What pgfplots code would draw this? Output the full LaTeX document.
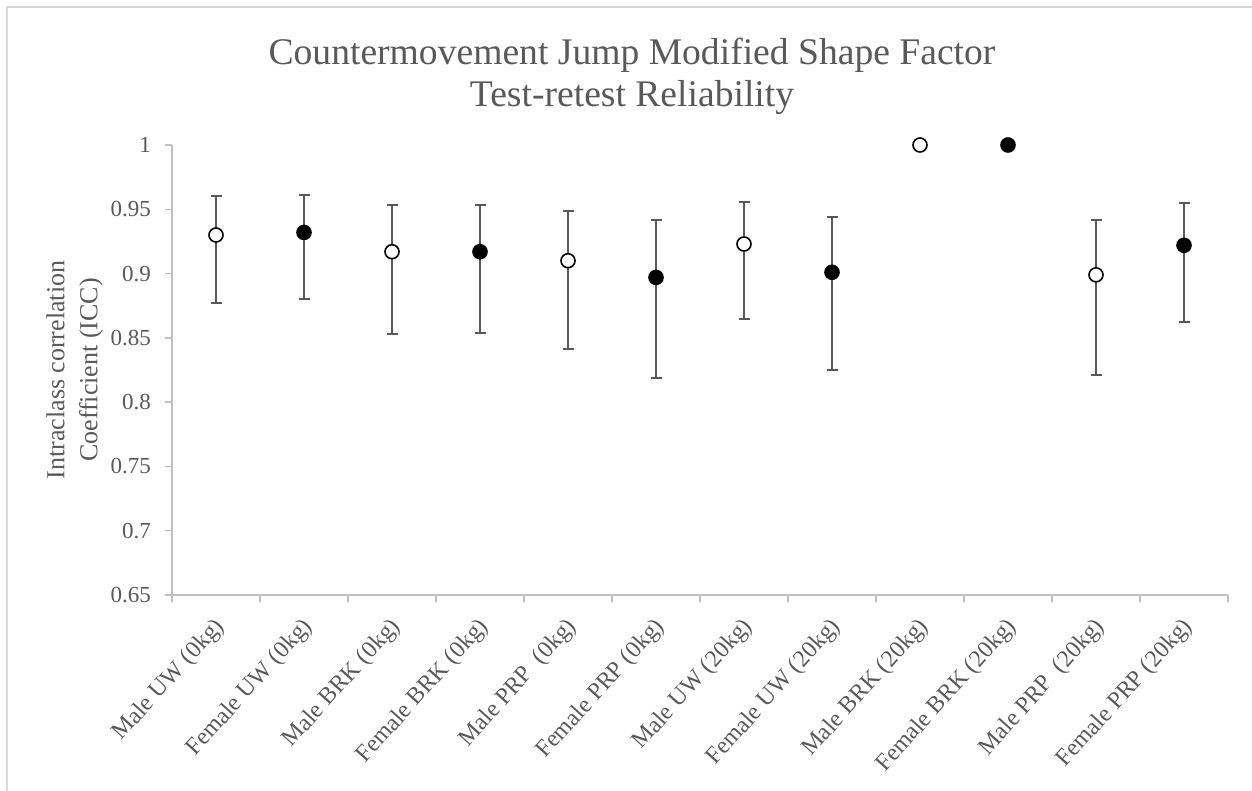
\documentclass[border=0pt]{standalone}
\usepackage{pgfplots}
\usepackage{pgfplotstable}
\pgfplotsset{compat=1.18}
\usepackage{fontspec}
\setmainfont{Liberation Serif}
\definecolor{txt}{HTML}{595959}
\definecolor{axl}{HTML}{BFBFBF}
\definecolor{frm}{HTML}{D9D9D9}
\definecolor{bar}{HTML}{595959}

\pgfplotstableread{
x y lo hi
0 0.930 0.877 0.960
2 0.917 0.853 0.953
4 0.910 0.841 0.949
6 0.923 0.865 0.956
8 1.000 1.000 1.000
10 0.899 0.821 0.942
}\male
\pgfplotstableread{
x y lo hi
1 0.932 0.880 0.961
3 0.917 0.854 0.953
5 0.897 0.819 0.942
7 0.901 0.825 0.944
9 1.000 1.000 1.000
11 0.922 0.862 0.955
}\female

\begin{document}
\begin{tikzpicture}
\useasboundingbox (0,0) rectangle (626bp,395.5bp);
\draw[frm, line width=0.75bp] (3.5bp,-5bp) -- (3.5bp,392bp) -- (640bp,392bp);
\node[anchor=base, text=txt, font=\fontsize{18.8bp}{22bp}\selectfont] at (316bp,363bp) {Countermovement Jump Modified Shape Factor};
\node[anchor=base, text=txt, font=\fontsize{18.8bp}{22bp}\selectfont] at (316bp,342bp) {Test-retest Reliability};
\begin{axis}[
  at={(86bp,98bp)}, anchor=south west,
  scale only axis, width=528bp, height=225bp,
  xmin=-0.5, xmax=11.5, ymin=0.65, ymax=1,
  axis x line*=bottom, axis y line*=left,
  axis line style={axl, line width=0.75bp, -},
  tick align=outside,
  major tick length=3.5bp,
  tick style={axl, line width=0.75bp},
  xtick={-0.5,0.5,...,11.5}, xticklabels={},
  extra x ticks={0,1,2,3,4,5,6,7,8,9,10,11},
  extra x tick labels={Male UW (0kg),Female UW (0kg),Male BRK (0kg),Female BRK (0kg),Male PRP\ \ (0kg),Female PRP (0kg),Male UW (20kg),Female UW (20kg),Male BRK (20kg),Female BRK (20kg),Male PRP\ \ (20kg),Female PRP (20kg)},
  extra x tick style={major tick length=0pt, tick label style={xshift=4.5bp, yshift=-11.5bp, rotate=48, anchor=east, font=\fontsize{12bp}{13bp}\selectfont, text=txt}},
  ytick={0.65,0.7,0.75,0.8,0.85,0.9,0.95,1},
  yticklabels={0.65,0.7,0.75,0.8,0.85,0.9,0.95,1},
  yticklabel style={xshift=-3.5bp, font=\fontsize{11.5bp}{13bp}\selectfont, text=txt},
  ylabel={Intraclass correlation\\Coefficient (ICC)},
  ylabel style={at={(axis description cs:-0.0587,0.5)}, anchor=south, align=center, font=\fontsize{13bp}{16.5bp}\selectfont, text=txt},
  /pgf/number format/assume math mode=true,
  clip=false,
]
\addplot[draw=none, mark=none, forget plot,
  error bars/.cd, y dir=both, y explicit,
  error bar style={bar, line width=1bp},
  error mark options={bar, rotate=90, mark size=2.75bp, line width=1bp}]
  table[x=x, y=y, y error plus expr=\thisrow{hi}-\thisrow{y}, y error minus expr=\thisrow{y}-\thisrow{lo}] {\male};
\addplot[draw=none, mark=none, forget plot,
  error bars/.cd, y dir=both, y explicit,
  error bar style={bar, line width=1bp},
  error mark options={bar, rotate=90, mark size=2.75bp, line width=1bp}]
  table[x=x, y=y, y error plus expr=\thisrow{hi}-\thisrow{y}, y error minus expr=\thisrow{y}-\thisrow{lo}] {\female};
\addplot[only marks, mark=*, mark size=3.5bp, mark options={fill=white, draw=black, line width=0.8bp}] table[x=x, y=y] {\male};
\addplot[only marks, mark=*, mark size=3.5bp, mark options={fill=black, draw=black, line width=0.8bp}] table[x=x, y=y] {\female};
\end{axis}
\end{tikzpicture}
\end{document}
